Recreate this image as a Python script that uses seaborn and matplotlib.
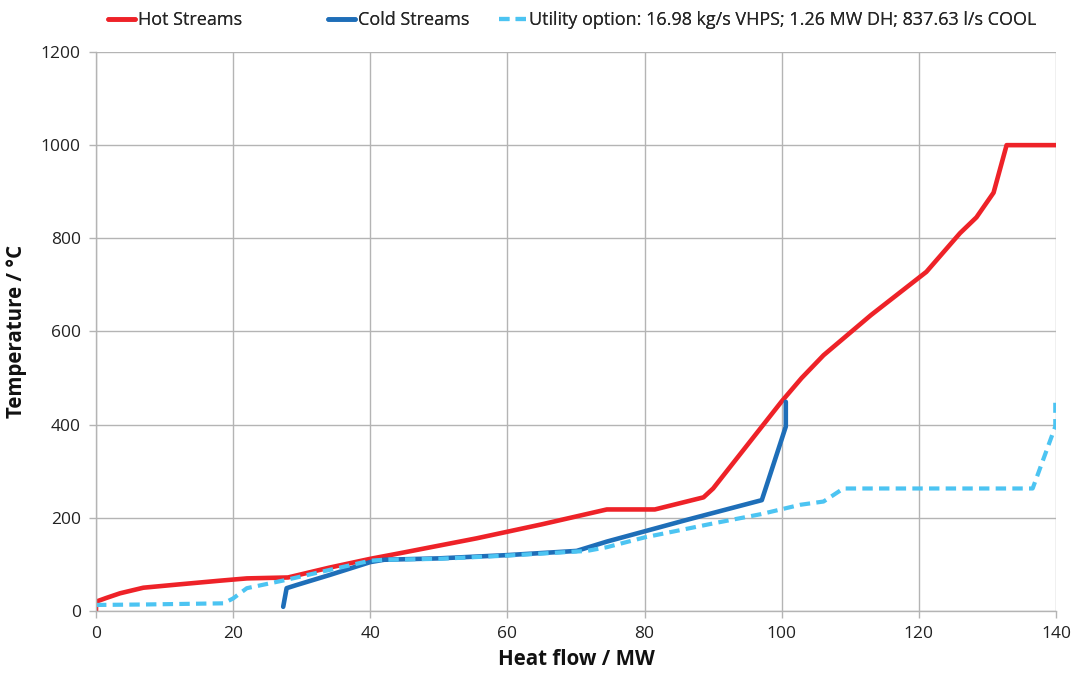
import matplotlib
matplotlib.use("Agg")
import matplotlib.pyplot as plt
import seaborn as sns
import pandas as pd

# ---- data ----
hot_q = [0, 0, 1.5, 3.5, 6.9, 12, 18, 22, 28, 34, 40, 44.3, 55.5, 65, 74.5, 81.5, 88.6, 90, 100, 102.9, 106.1, 113, 121.1, 126, 128.4, 130.9, 132.8, 140]
hot_t = [0, 20, 28, 38, 50, 57, 65, 70, 72, 93, 112, 124, 156, 186, 218, 218, 244, 263, 450, 500, 549, 635, 728, 811, 845, 898, 1000, 1000]

cold_q = [27.3, 27.8, 29.3, 34, 40, 42, 50, 60, 70.1, 74.5, 86, 97.1, 100.6, 100.6]
cold_t = [9, 49, 56, 77, 105, 110, 113, 120, 129, 149, 195, 238, 396, 449]

util_q = [0, 7, 18.6, 20, 22, 27.8, 34, 40, 42, 50, 60, 71.6, 74.5, 80, 90, 97, 102.7, 106.1, 109, 136.6, 139.9, 139.9]
util_t = [13, 14, 16.5, 27, 49, 67, 88, 108, 110, 112, 119, 129, 137, 158, 188, 208, 228, 235, 263, 263, 396, 447]

labels = ["Hot Streams", "Cold Streams",
          "Utility option: 16.98 kg/s VHPS; 1.26 MW DH; 837.63 l/s COOL"]

x_ticks = [0, 20, 40, 60, 80, 100, 120, 140]
y_ticks = [0, 200, 400, 600, 800, 1000, 1200]

# ---- plot ----
sns.set_theme(style="white")
plt.rcParams["font.family"] = ["Open Sans", "DejaVu Sans"]

fig = plt.figure(figsize=(10.75, 6.75), dpi=100)
ax = fig.add_axes([0.0893, 0.0948, 0.893, 0.8282])

hot = pd.DataFrame({"q": hot_q, "t": hot_t})
cold = pd.DataFrame({"q": cold_q, "t": cold_t})
util = pd.DataFrame({"q": util_q, "t": util_t})

sns.lineplot(data=hot, x="q", y="t", sort=False, ax=ax, color="#EE2228",
             linewidth=3.3, label=labels[0], estimator=None)
sns.lineplot(data=cold, x="q", y="t", sort=False, ax=ax, color="#1E6EB8",
             linewidth=3.3, label=labels[1], estimator=None)
sns.lineplot(data=util, x="q", y="t", sort=False, ax=ax, color="#4CC4F2",
             linewidth=3.0, linestyle=(0, (2.5, 1.5)), label=labels[2], estimator=None)

ax.set_xlim(0, 140)
ax.set_ylim(0, 1200)
ax.set_xticks(x_ticks)
ax.set_yticks(y_ticks)
ax.grid(True, color="#b4b4b4", linewidth=1.0)
ax.set_axisbelow(True)
for s in ["top", "right"]:
    ax.spines[s].set_visible(False)
for s in ["left", "bottom"]:
    ax.spines[s].set_color("#b4b4b4")
    ax.spines[s].set_linewidth(1.0)
ax.tick_params(axis="both", which="both", length=5, width=1, color="#b4b4b4",
               labelsize=12.5, labelcolor="#222222", direction="out",
               left=True, bottom=True, pad=6)

ax.set_xlabel("Heat flow / MW", fontsize=14.8, fontweight="bold", color="#111111", labelpad=5)
ax.set_ylabel("Temperature / °C", fontsize=14.8, fontweight="bold", color="#111111", labelpad=10)

ax.get_legend().remove()
handles, lbls = ax.get_legend_handles_labels()
W, H = 1075.0, 675.0
for h, l, xpx in zip(handles, lbls, [108, 328, 499]):
    leg = fig.legend([h], [l], loc="upper left", bbox_to_anchor=(xpx / W, 1 - 11 / H),
                     frameon=False, fontsize=13, handlelength=1.5,
                     handletextpad=0.15, borderpad=0, borderaxespad=0)
    fig.add_artist(leg)

fig.savefig("out.png", dpi=100)
